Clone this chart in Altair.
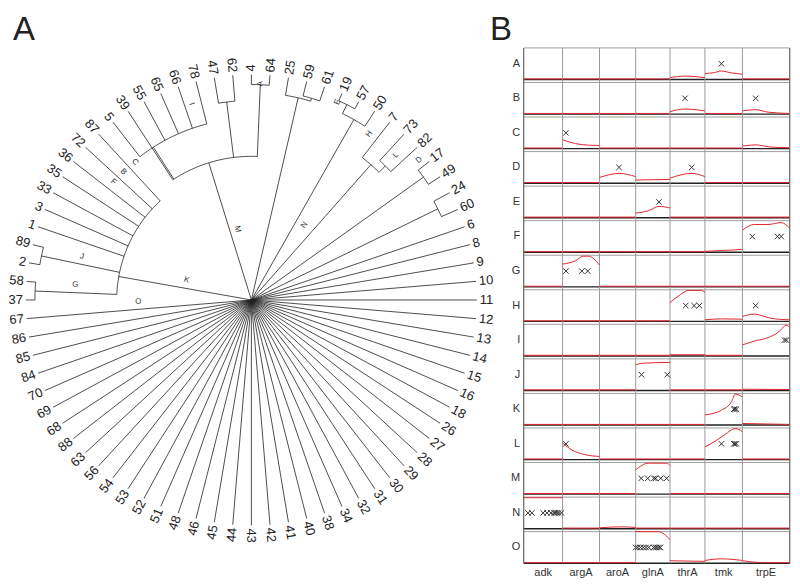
import altair as alt
import pandas as pd
import numpy as np

# ---------------- Panel A data: radial dendrogram ----------------
leaf_order = ["11", "10", "9", "8", "6", "60", "24", "49", "17", "82", "73", "7", "50", "57", "19",
              "61", "59", "25", "64", "4", "62", "47", "78", "66", "65", "55", "39", "5", "87", "72",
              "36", "35", "33", "3", "1", "89", "2", "58", "37", "67", "86", "85", "84", "70", "69",
              "68", "88", "63", "56", "54", "53", "52", "51", "48", "46", "45", "44", "43", "42", "41",
              "40", "38", "34", "32", "31", "30", "29", "28", "27", "26", "18", "16", "15", "14", "13", "12"]
# height (distance from root) of each leaf's parent node
leaf_parent_h = ([0, 0, 0, 0, 0, 208, 208, 212, 212, 190, 190, 181, 208, 218, 218, 211, 211, 208,
                  216, 216, 200, 200, 182, 182, 182, 182, 144, 182, 135, 135, 135, 135, 135, 135, 135,
                  215, 215, 217, 217] + [0] * 37)
TIP = 226
# internal nodes (position in leaf units, height, parent height, arc span)
node_pos = [5.5, 7.5, 9.5, 10.25, 13.5, 12.75, 15.5, 16.25, 18.5, 20.5, 25.9, 22.64, 35.5, 37.5, 35.88]
node_h = [208, 212, 190, 181, 218, 208, 211, 208, 216, 200, 182, 144, 215, 217, 135]
node_ph = [0, 0, 181, 0, 208, 0, 208, 0, 144, 144, 144, 0, 135, 135, 0]
node_lo = [5, 7, 9, 9.5, 13, 12, 15, 15.5, 18, 20, 22, 18.5, 35, 37, 28]
node_hi = [6, 8, 10, 11, 14, 13.5, 16, 17, 19, 21, 27, 26, 36, 38, 37.5]

clade_lab = list("ABCDEFGHIJKLMNO")
clade_deg = [87.6, 135, 130.2, 39.8, 66.4, 139.5, 175.1, 54.6, 107, 165.7, 162.9, 45, 101.2, 54.6, 180.9]
clade_r = [217, 181.5, 181, 219, 216.5, 182, 177.3, 204, 205.6, 175.4, 68, 205, 72.4, 92, 113.3]

# ---------------- Panel B data ----------------
genes = ["adk", "argA", "aroA", "glnA", "thrA", "tmk", "trpE"]
gene_len = [390, 370, 363, 344, 350, 376, 474]
rows = list("ABCDEFGHIJKLMNO")

curves = {
    "A": {"thrA": [(0, .06), (.43, .11), (1, .06)],
          "tmk": [(0, .19), (.25, .22), (.44, .27), (.7, .21), (1, .17)]},
    "B": {"thrA": [(0, .08), (.43, .16), (1, .10)],
          "trpE": [(0, .10), (.28, .14), (.55, .06), (1, .02)]},
    "C": {"argA": [(0, .28), (.1, .24), (.35, .16), (.7, .11), (1, .10)],
          "trpE": [(0, .08), (.28, .12), (.6, .05), (1, .03)]},
    "D": {"aroA": [(0, .18), (.54, .31), (1, .21)],
          "glnA": [(0, .10), (1, .12)],
          "thrA": [(0, .16), (.62, .31), (1, .21)]},
    "E": {"glnA": [(0, .15), (.37, .22), (.68, .36), (1, .31)]},
    "F": {"tmk": [(0, .03), (1, .09)],
          "trpE": [(0, .70), (.25, .88), (.54, .88), (.82, .94), (1, .76)]},
    "G": {"argA": [(0, .72), (.34, .82), (.56, .97), (.7, .97), (1, .69)]},
    "H": {"thrA": [(0, .60), (.29, .84), (.52, .98), (.9, .98), (1, .92)],
          "tmk": [(0, .05), (.44, .08), (1, .07)],
          "trpE": [(0, .16), (.25, .23), (.6, .10), (1, .05)]},
    "I": {"thrA": [(0, .04), (1, .04)],
          "trpE": [(0, .35), (.25, .47), (.54, .58), (.75, .74), (.93, .97), (1, .90)]},
    "J": {"glnA": [(0, .81), (.17, .86), (1, .89)],
          "trpE": [(0, .04), (1, .03)]},
    "K": {"tmk": [(0, .32), (.44, .47), (.71, .74), (.81, .98), (1, .89)],
          "trpE": [(0, .05), (1, .02)]},
    "L": {"argA": [(0, .53), (.23, .32), (.6, .16), (1, .10)],
          "tmk": [(0, .40), (.27, .58), (.53, .79), (.81, .98), (1, .89)]},
    "M": {"glnA": [(0, .77), (.37, .98), (.9, .98), (1, .90)]},
    "N": {"adk": [(0, .98), (1, .98)],
          "aroA": [(0, .03), (.6, .06), (1, .04)]},
    "O": {"glnA": [(0, 1.0), (.66, 1.0), (1, .75)],
          "thrA": [(0, .08), (1, .06)],
          "tmk": [(0, .09), (.44, .14), (1, .09)],
          "trpE": [(0, .08), (.46, .02), (1, .02)]},
}
flat = [(0, .02), (1, .02)]

crosses = {
    "A": {"tmk": [.44]},
    "B": {"thrA": [.43], "trpE": [.28]},
    "C": {"argA": [.09]},
    "D": {"aroA": [.54], "thrA": [.62]},
    "E": {"glnA": [.68]},
    "F": {"trpE": [.21, .74, .82]},
    "G": {"argA": [.09, .52, .68]},
    "H": {"thrA": [.45, .69, .84], "trpE": [.28]},
    "I": {"trpE": [.89, .93]},
    "J": {"glnA": [.17, .92]},
    "K": {"tmk": [.77, .80, .84]},
    "L": {"argA": [.09], "tmk": [.44, .77, .80, .84]},
    "M": {"glnA": [.16, .35, .53, .58, .73, .90]},
    "N": {"adk": [.11, .21, .5, .6, .7, .77, .81, .85, .9, .97]},
    "O": {"glnA": [.0, .06, .14, .22, .30, .38, .52, .57, .62, .68, .72]},
}

FONT = "Liberation Sans"

# ================= Panel A =================
pts = []
sid = 0
for i, ph in enumerate(leaf_parent_h):
    pts += [dict(seg=sid, k=0, pos=i, r=ph), dict(seg=sid, k=1, pos=i, r=TIP)]
    sid += 1
for p, h, ph, lo, hi in zip(node_pos, node_h, node_ph, node_lo, node_hi):
    pts += [dict(seg=sid, k=0, pos=p, r=ph), dict(seg=sid, k=1, pos=p, r=h)]
    sid += 1
    n = int((hi - lo) * 6) + 2
    for k, q in enumerate(np.linspace(lo, hi, n)):
        pts.append(dict(seg=sid, k=k, pos=float(q), r=h))
    sid += 1
tree_df = pd.DataFrame(pts)

xsA = alt.Scale(domain=[-244, 236], nice=False, zero=False)
ysA = alt.Scale(domain=[-277, 292], nice=False, zero=False)
NL = len(leaf_order)

tree = alt.Chart(tree_df).transform_calculate(
    a=f"datum.pos*2*PI/{NL}"
).transform_calculate(
    x="datum.r*cos(datum.a)", y="datum.r*sin(datum.a)"
).mark_line(color="#222222", strokeWidth=0.8).encode(
    x=alt.X("x:Q", scale=xsA, axis=None),
    y=alt.Y("y:Q", scale=ysA, axis=None),
    detail="seg:N",
    order="k:Q",
)

leaf_df = pd.DataFrame({"name": leaf_order, "pos": list(range(NL))})
leaf_base = alt.Chart(leaf_df).transform_calculate(
    deg=f"datum.pos*360/{NL}"
).transform_calculate(
    x="229*cos(datum.deg*PI/180)", y="229*sin(datum.deg*PI/180)",
    right="(datum.deg <= 90.01 || datum.deg >= 269.99) ? 1 : 0",
    rot="(datum.deg <= 90.01 || datum.deg >= 269.99) ? (360 - datum.deg) % 360 : (540 - datum.deg) % 360",
)
leaf_r = leaf_base.transform_filter("datum.right == 1").mark_text(
    align="left", baseline="middle", fontSize=13, font=FONT, color="#222222"
).encode(x=alt.X("x:Q", scale=xsA, axis=None), y=alt.Y("y:Q", scale=ysA, axis=None),
         text="name:N", angle=alt.Angle("rot:Q", scale=None))
leaf_l = leaf_base.transform_filter("datum.right == 0").mark_text(
    align="right", baseline="middle", fontSize=13, font=FONT, color="#222222"
).encode(x=alt.X("x:Q", scale=xsA, axis=None), y=alt.Y("y:Q", scale=ysA, axis=None),
         text="name:N", angle=alt.Angle("rot:Q", scale=None))

clade_df = pd.DataFrame({"lab": clade_lab, "deg": clade_deg, "r": clade_r})
clades = alt.Chart(clade_df).transform_calculate(
    x="datum.r*cos(datum.deg*PI/180)", y="datum.r*sin(datum.deg*PI/180)",
    rot="(datum.deg <= 90 || datum.deg >= 270) ? (360 - datum.deg) % 360 : (540 - datum.deg) % 360",
).mark_text(align="center", baseline="middle", fontSize=8, font=FONT, color="#333333").encode(
    x=alt.X("x:Q", scale=xsA, axis=None), y=alt.Y("y:Q", scale=ysA, axis=None),
    text="lab:N", angle=alt.Angle("rot:Q", scale=None))

titleA = alt.Chart(pd.DataFrame({"t": ["A"]})).mark_text(
    fontSize=33, font=FONT, color="#222222", align="center", baseline="alphabetic"
).encode(x=alt.datum(-228, scale=xsA), y=alt.datum(261, scale=ysA), text="t:N")

panelA = alt.layer(tree, leaf_r, leaf_l, clades, titleA).properties(width=480, height=569)

# ================= Panel B =================
starts = list(np.cumsum([0] + gene_len[:-1]))
TOTAL = int(sum(gene_len))
gstart = dict(zip(genes, starts))
glen = dict(zip(genes, gene_len))
CH = 0.915  # cell height in row units

crv = []
for ri, rname in enumerate(rows):
    for g in genes:
        for rel, v in curves.get(rname, {}).get(g, flat):
            crv.append(dict(row=rname, ri=ri, gene=g, start=gstart[g], glen=glen[g], rel=rel, v=v))
crv_df = pd.DataFrame(crv)

crs = []
for ri, rname in enumerate(rows):
    for g, rels in crosses.get(rname, {}).items():
        for rel in rels:
            crs.append(dict(row=rname, ri=ri, gene=g, start=gstart[g], glen=glen[g], rel=rel))
crs_df = pd.DataFrame(crs)

xsB = alt.Scale(domain=[-370, 2670], nice=False, zero=False)
ysB = alt.Scale(domain=[-1.1345, 15.2916], nice=False, zero=False, reverse=True)

bounds = [0] + list(np.cumsum(gene_len))
vl_df = pd.DataFrame({"b": [float(b) for b in bounds], "y0": 0.0, "y1": 14 + CH,
                      "kind": ["edge"] + ["inner"] * (len(bounds) - 2) + ["edge"]})
vlines_in = alt.Chart(vl_df).transform_filter("datum.kind == 'inner'").mark_rule(
    color="#9a9a9a", strokeWidth=1).encode(
    x=alt.X("b:Q", scale=xsB, axis=None), y=alt.Y("y0:Q", scale=ysB, axis=None), y2="y1:Q")
vlines_edge = alt.Chart(vl_df).transform_filter("datum.kind == 'edge'").mark_rule(
    color="#707070", strokeWidth=1.3).encode(
    x=alt.X("b:Q", scale=xsB, axis=None), y=alt.Y("y0:Q", scale=ysB, axis=None), y2="y1:Q")

row_df = pd.DataFrame({"row": rows, "ri": list(range(len(rows)))})
row_df["x0"] = 0
row_df["x1"] = TOTAL
top_lines = alt.Chart(row_df).mark_rule(color="#a0a0a0", strokeWidth=1).encode(
    x=alt.X("x0:Q", scale=xsB, axis=None), x2="x1:Q",
    y=alt.Y("ri:Q", scale=ysB, axis=None))
bot_lines = alt.Chart(row_df).transform_calculate(yb=f"datum.ri + {CH}").mark_rule(
    color="#222222", strokeWidth=1.4).encode(
    x=alt.X("x0:Q", scale=xsB, axis=None), x2="x1:Q",
    y=alt.Y("yb:Q", scale=ysB, axis=None))

curve_lines = alt.Chart(crv_df).transform_calculate(
    gx="datum.start + datum.rel*datum.glen",
    gy=f"datum.ri + {CH}*(1 - datum.v)",
    key="datum.row + '_' + datum.gene",
).mark_line(color="#e0262f", strokeWidth=1, interpolate="monotone").encode(
    x=alt.X("gx:Q", scale=xsB, axis=None), y=alt.Y("gy:Q", scale=ysB, axis=None),
    detail="key:N", order="rel:Q")

cross_pts = alt.Chart(crs_df).transform_calculate(
    gx="datum.start + datum.rel*datum.glen",
    gy=f"datum.ri + {CH}/2",
).mark_point(shape="M-1,-1L1,1M-1,1L1,-1", size=30, filled=False, strokeWidth=1,
             color="#333333", opacity=1).encode(
    x=alt.X("gx:Q", scale=xsB, axis=None), y=alt.Y("gy:Q", scale=ysB, axis=None))

row_labels = alt.Chart(row_df).transform_calculate(
    ly=f"datum.ri + {CH}/2", lx="-35").mark_text(
    align="right", baseline="middle", fontSize=11, font=FONT, color="#333333").encode(
    x=alt.X("lx:Q", scale=xsB, axis=None), y=alt.Y("ly:Q", scale=ysB, axis=None), text="row:N")

col_df = pd.DataFrame({"gene": genes, "start": starts, "glen": gene_len})
col_labels = alt.Chart(col_df).transform_calculate(
    cx="datum.start + datum.glen/2", cy="15.19").mark_text(
    align="center", baseline="middle", fontSize=11, font=FONT, color="#333333").encode(
    x=alt.X("cx:Q", scale=xsB, axis=None), y=alt.Y("cy:Q", scale=ysB, axis=None), text="gene:N")

titleB = alt.Chart(pd.DataFrame({"t": ["B"]})).mark_text(
    fontSize=33, font=FONT, color="#222222", align="center", baseline="alphabetic"
).encode(x=alt.datum(-228, scale=xsB), y=alt.datum(-0.24, scale=ysB), text="t:N")

panelB = alt.layer(top_lines, bot_lines, vlines_in, vlines_edge, curve_lines, cross_pts,
                   row_labels, col_labels, titleB).properties(width=304, height=569)

chart = alt.hconcat(panelA, panelB, spacing=0).properties(
    padding=0, bounds="flush"
).configure_view(stroke=None)

chart.save("out.html", embed_options={"renderer": "svg", "actions": False})
